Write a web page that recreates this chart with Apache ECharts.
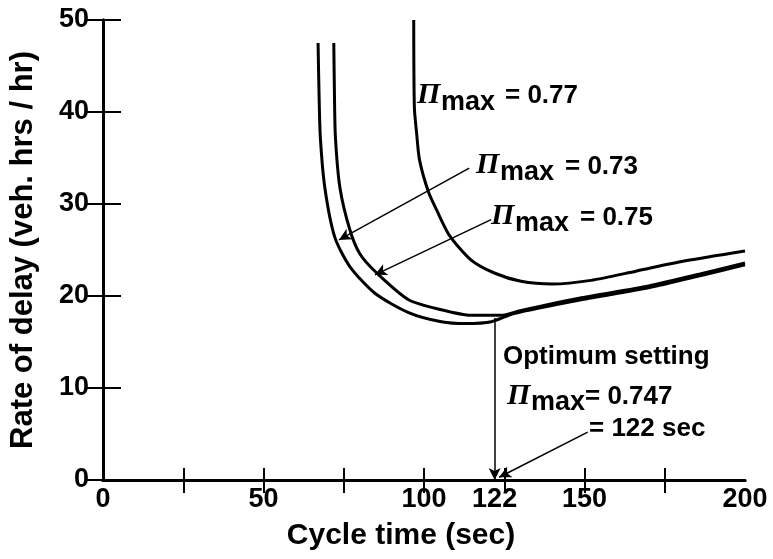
<!DOCTYPE html>
<html>
<head>
<meta charset="utf-8">
<script src="https://cdn.jsdelivr.net/npm/echarts@6/dist/echarts.min.js"></script>
<style>
  html, body { margin: 0; padding: 0; background: #fff; }
  #main { width: 773px; height: 559px; }
</style>
</head>
<body>
<div id="main"></div>
<script>
// 曲线数据 (cycle time, rate of delay)
var cycle73 = [67.0, 67.3, 67.7, 69.1, 72.2, 76.9, 84.7, 95.2, 105.4, 113, 121, 128, 149, 170, 186, 200];
var delay73 = [47.5, 42.0, 37.3, 31.8, 26.4, 23.2, 20.3, 18.2, 17.2, 17.0, 17.2, 18.1, 19.6, 20.9, 22.2, 23.4];

var cycle75 = [71.9, 72.1, 72.4, 73.8, 76.9, 80.0, 85.3, 95.2, 105.4, 114.7, 124, 130, 149, 170, 186, 200];
var delay75 = [47.5, 42.0, 37.3, 31.8, 27.2, 24.6, 22.5, 19.6, 18.5, 17.9, 17.9, 18.4, 19.8, 21.1, 22.4, 23.6];

var cycle77 = [96.8, 97.0, 97.7, 98.6, 101.4, 104.0, 107.9, 114.7, 121.9, 130.2, 140, 152, 166, 181, 200];
var delay77 = [50, 40.5, 37.7, 34.8, 31.3, 29.3, 26.6, 23.9, 22.5, 21.6, 21.3, 21.7, 22.7, 23.8, 24.9];

// 坐标轴刻度
var xTicks = [25, 50, 75, 100, 125, 150, 175];
var xLabels = [0, 50, 100, 122, 150, 200];
var optimumCycle = 122;

function pairs(xs, ys) {
    return xs.map(function (x, i) { return [x, ys[i]]; });
}

var black = '#000';
var sans = 'Liberation Sans, Arial, sans-serif';

function curve(name, xs, ys) {
    return {
        name: name,
        type: 'line',
        data: pairs(xs, ys),
        showSymbol: false,
        smooth: 0.25,
        lineStyle: { color: black, width: 3 },
        silent: true
    };
}

// 文字标注 Π max = ...
function txt(x, y, s, size, extra) {
    var st = {
        text: s,
        fill: black,
        font: 'bold ' + size + 'px ' + sans,
        align: 'left',
        verticalAlign: 'middle'
    };
    if (extra) { for (var k in extra) st[k] = extra[k]; }
    return { type: 'text', x: x, y: y, style: st, z: 100 };
}
function piLabel(px, py, mx, my, ex, ey, value) {
    return [
        txt(px, py, 'Π', 30, { font: 'italic bold 30px Liberation Serif, serif' }),
        txt(mx, my, 'max', 27),
        txt(ex, ey, value, 26)
    ];
}

var graphics = []
    .concat(piLabel(417, 95, 441, 103, 505, 96, '= 0.77'))
    .concat(piLabel(476, 165, 500, 173, 565, 167, '= 0.73'))
    .concat(piLabel(491, 216, 515, 224, 580, 218, '= 0.75'))
    .concat([txt(503, 357, 'Optimum setting', 26)])
    .concat(piLabel(507, 396, 531, 403, 585, 397, '= 0.747'))
    .concat([txt(589, 429, '= 122 sec', 26)]);

var myChart = echarts.init(document.getElementById('main'));
var option = {
    backgroundColor: '#fff',
    animation: false,
    grid: { left: 100, right: 28, top: 20, bottom: 79 },
    xAxis: [{
        type: 'value', min: 0, max: 200, position: 'bottom',
        name: 'Cycle time (sec)', nameLocation: 'middle', nameGap: 41,
        nameTextStyle: { fontSize: 30, fontWeight: 'bold', color: black, fontFamily: sans, padding: [0, 46, 0, 0] },
        axisLine: { lineStyle: { color: black, width: 3 } },
        axisTick: { inside: true, length: 12, lineStyle: { color: black, width: 2 }, customValues: xTicks },
        axisLabel: { customValues: xLabels, fontSize: 27, fontWeight: 'bold', color: black, fontFamily: sans, margin: 6 },
        splitLine: { show: false }
    }, {
        type: 'value', min: 0, max: 200, position: 'top',
        axisLine: { lineStyle: { color: black, width: 3 } },
        axisTick: { inside: true, length: 13, lineStyle: { color: black, width: 2 }, customValues: xTicks },
        axisLabel: { show: false },
        splitLine: { show: false }
    }],
    yAxis: [{
        type: 'value', min: 0, max: 50, interval: 10, position: 'left',
        name: 'Rate of delay (veh. hrs / hr)', nameLocation: 'middle', nameGap: 64,
        nameTextStyle: { fontSize: 31, fontWeight: 'bold', color: black, fontFamily: sans },
        axisLine: { show: true, lineStyle: { color: black, width: 3 } },
        axisTick: { inside: true, length: 18, lineStyle: { color: black, width: 2 } },
        axisLabel: { fontSize: 27, fontWeight: 'bold', color: black, fontFamily: sans, margin: 14 },
        splitLine: { show: false }
    }, {
        type: 'value', min: 0, max: 50, interval: 10, position: 'right',
        axisLine: { show: true, lineStyle: { color: black, width: 3 } },
        axisTick: { inside: true, length: 17, lineStyle: { color: black, width: 2 } },
        axisLabel: { show: false },
        splitLine: { show: false }
    }],
    series: [
        curve('0.73', cycle73, delay73),
        curve('0.75', cycle75, delay75),
        curve('0.77', cycle77, delay77),
        {
            // 箭头标注
            type: 'line',
            data: [],
            silent: true,
            markLine: {
                silent: true,
                symbol: ['none', 'arrow'],
                symbolSize: [9, 12],
                label: { show: false },
                lineStyle: { color: black, width: 1.5, type: 'solid' },
                data: [
                    [{ coord: [114.1, 33.9] }, { coord: [73.5, 26.1] }],
                    [{ coord: [120.9, 28.3] }, { coord: [84.7, 22.3] }],
                    [{ coord: [optimumCycle, 17.6] }, { coord: [optimumCycle, 0] }],
                    [{ coord: [151, 5.2] }, { coord: [123.4, 0.3] }]
                ]
            }
        }
    ],
    graphic: graphics
};
myChart.setOption(option);
</script>
</body>
</html>
